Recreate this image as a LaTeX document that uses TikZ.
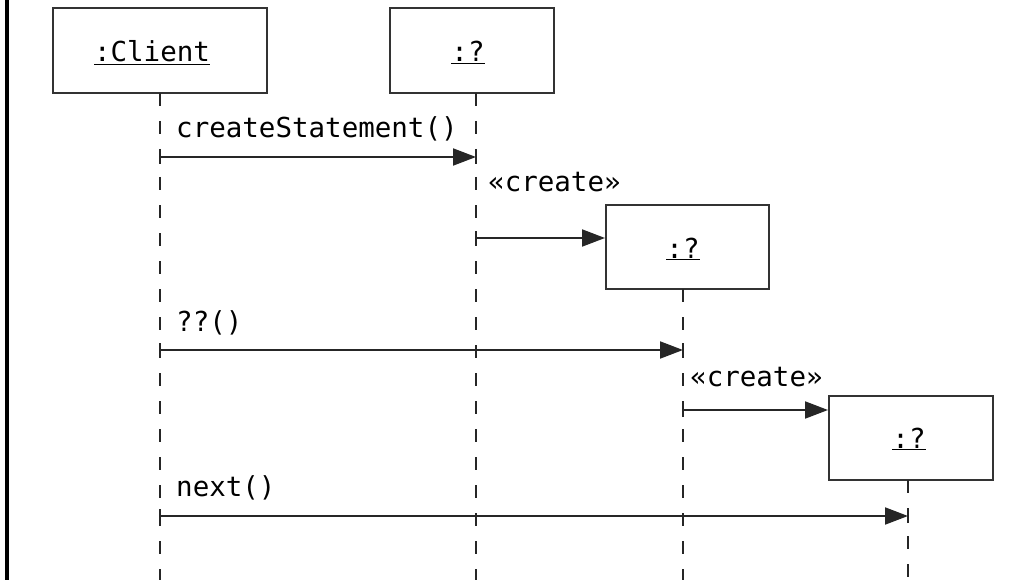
\documentclass[tikz,border=0pt]{standalone}
\usepackage{fontspec}
\setmonofont{DejaVu Sans Mono}
\usetikzlibrary{arrows.meta}
\begin{document}
\begin{tikzpicture}[x=1pt,y=-1pt,
  every node/.style={font=\ttfamily\fontsize{27.5}{31}\selectfont},
  objbox/.style={draw=black!80, line width=2pt, minimum height=85pt, inner sep=0pt, fill=white},
  lifeline/.style={draw=black!85, line width=2pt, dash pattern=on 13pt off 15pt},
  msg/.style={draw=black!85, line width=2pt, -{Triangle[length=23pt,width=17pt]}},
  tickmark/.style={draw=black!85, line width=2pt},
  msglabel/.style={anchor=base west, inner sep=0pt},
  objname/.style={anchor=base, inner sep=0pt}]
\useasboundingbox (0,0) rectangle (1027,580);
\draw[line width=4pt] (7,0) -- (7,580);
% objects
\node[objbox, minimum width=214pt] (client) at (160,50.5) {};
\node[objbox, minimum width=164pt] (obj1) at (472,50.5) {};
\node[objbox, minimum width=163pt, minimum height=84pt] (obj2) at (687.5,247) {};
\node[objbox, minimum width=164pt, minimum height=84pt] (obj3) at (911,438) {};
\node[objname] (t0) at (152,62) {\underline{:Client}};
\node[objname] (t1) at (468,62) {\underline{:?}};
\node[objname] (t2) at (683,258) {\underline{:?}};
\node[objname] (t3) at (909,448) {\underline{:?}};
% lifeline ends
\coordinate (cTop) at (160,93);   \coordinate (cEnd) at (160,580);
\coordinate (aTop) at (476,93);   \coordinate (aEnd) at (476,580);
\coordinate (bTop) at (683,289);  \coordinate (bEnd) at (683,580);
\coordinate (dTop) at (908,480);  \coordinate (dEnd) at (908,580);
\draw[lifeline] (cTop) -- (cEnd);
\draw[lifeline] (aTop) -- (aEnd);
\draw[lifeline] (bTop) -- (bEnd);
\draw[lifeline] (dTop) -- (dEnd);
% message anchors
\coordinate (m1s) at (160,157); \coordinate (m1e) at (476,157);
\coordinate (m2s) at (476,238);
\coordinate (m3s) at (160,350); \coordinate (m3e) at (683,350);
\coordinate (m4s) at (683,410);
\coordinate (m5s) at (160,516); \coordinate (m5e) at (908,516);
\foreach \p in {m1s,m1e,m2s,m3s,m3e,m4s,m5s,m5e}
  \draw[tickmark] ([yshift=-7pt]\p) -- ([yshift=7pt]\p);
\draw[msg] (m1s) -- (m1e);
\draw[msg] (m2s) -- (obj2.west |- m2s);
\draw[msg] (m3s) -- (m3e);
\draw[msg] (m4s) -- (obj3.west |- m4s);
\draw[msg] (m5s) -- (m5e);
% labels
\node[msglabel] (l1) at (176,138) {createStatement()};
\node[msglabel] (l2) at (488,192) {«create»};
\node[msglabel] (l3) at (176,331) {??()};
\node[msglabel] (l4) at (690,386) {«create»};
\node[msglabel] (l5) at (176,496) {next()};
\end{tikzpicture}
\end{document}
